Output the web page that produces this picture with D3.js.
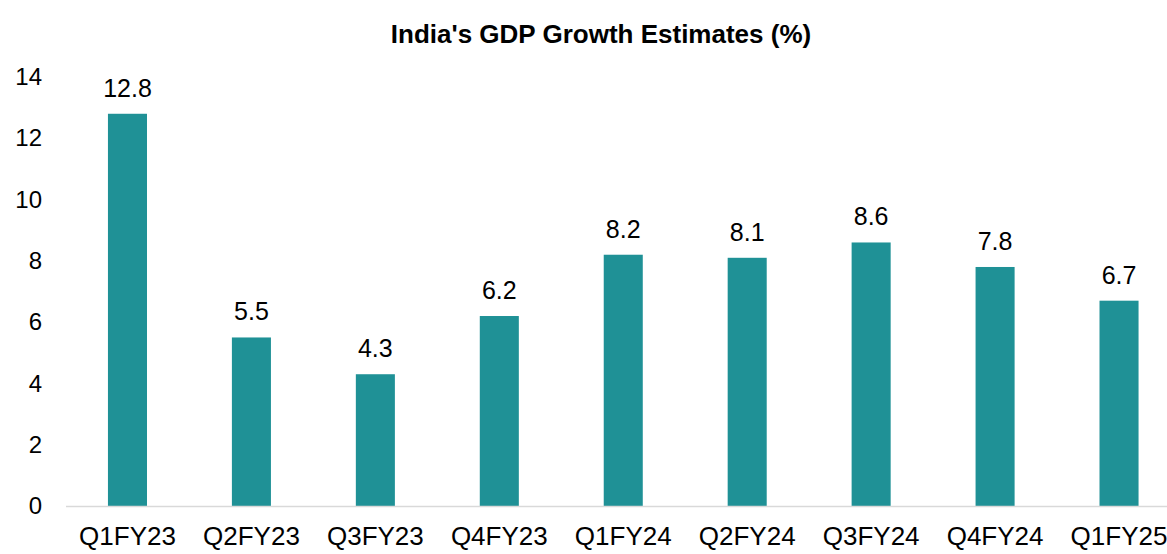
<!DOCTYPE html>
<html>
<head>
<meta charset="utf-8">
<script src="https://cdn.jsdelivr.net/npm/d3@7"></script>
<style>
  body { margin: 0; background: #fff; }
  svg text { font-family: "Liberation Sans", Arial, sans-serif; fill: #000; }
</style>
</head>
<body>
<svg id="chart" width="1167" height="554"></svg>
<script>
// data
var quarters = ["Q1FY23", "Q2FY23", "Q3FY23", "Q4FY23", "Q1FY24", "Q2FY24", "Q3FY24", "Q4FY24", "Q1FY25"];
var growth = [12.8, 5.5, 4.3, 6.2, 8.2, 8.1, 8.6, 7.8, 6.7];
var yTicks = [0, 2, 4, 6, 8, 10, 12, 14];

var svg = d3.select("#chart");

var x = d3.scaleBand()
    .domain(quarters)
    .range([65.5, 1181])
    .paddingInner(0.685)
    .paddingOuter(0.3425);

var y = d3.scaleLinear()
    .domain([0, 14])
    .range([506, 77]);

// title
svg.append("text")
    .attr("x", 601)
    .attr("y", 43)
    .attr("text-anchor", "middle")
    .style("font-size", "26px")
    .style("font-weight", "bold")
    .text("India's GDP Growth Estimates (%)");

// y axis labels, no line
var yAxis = svg.append("g")
    .attr("transform", "translate(42,0)")
    .call(d3.axisLeft(y).tickValues(yTicks).tickSize(0).tickPadding(0));
yAxis.select(".domain").remove();
yAxis.selectAll("text")
    .style("font-size", "24px")
    .attr("font-family", null);

// bars
svg.selectAll("rect.bar")
    .data(growth)
    .enter().append("rect")
    .attr("class", "bar")
    .attr("x", function(d, i) { return x(quarters[i]); })
    .attr("width", x.bandwidth())
    .attr("y", function(d) { return y(d); })
    .attr("height", function(d) { return y(0) - y(d); })
    .attr("fill", "#1f9196");

// value labels
svg.selectAll("text.val")
    .data(growth)
    .enter().append("text")
    .attr("class", "val")
    .attr("x", function(d, i) { return x(quarters[i]) + x.bandwidth() / 2; })
    .attr("y", function(d) { return y(d) - 17; })
    .attr("text-anchor", "middle")
    .style("font-size", "25px")
    .text(function(d) { return d.toFixed(1); });

// x axis
var xAxis = svg.append("g")
    .attr("transform", "translate(0," + y(0) + ")")
    .call(d3.axisBottom(x).tickSize(0).tickPadding(0));
xAxis.select(".domain")
    .attr("stroke", "#d9d9d9")
    .attr("stroke-width", 1.5);
xAxis.selectAll("text")
    .attr("dy", null)
    .attr("y", 39)
    .attr("font-family", null)
    .style("font-size", "26px");
</script>
</body>
</html>
